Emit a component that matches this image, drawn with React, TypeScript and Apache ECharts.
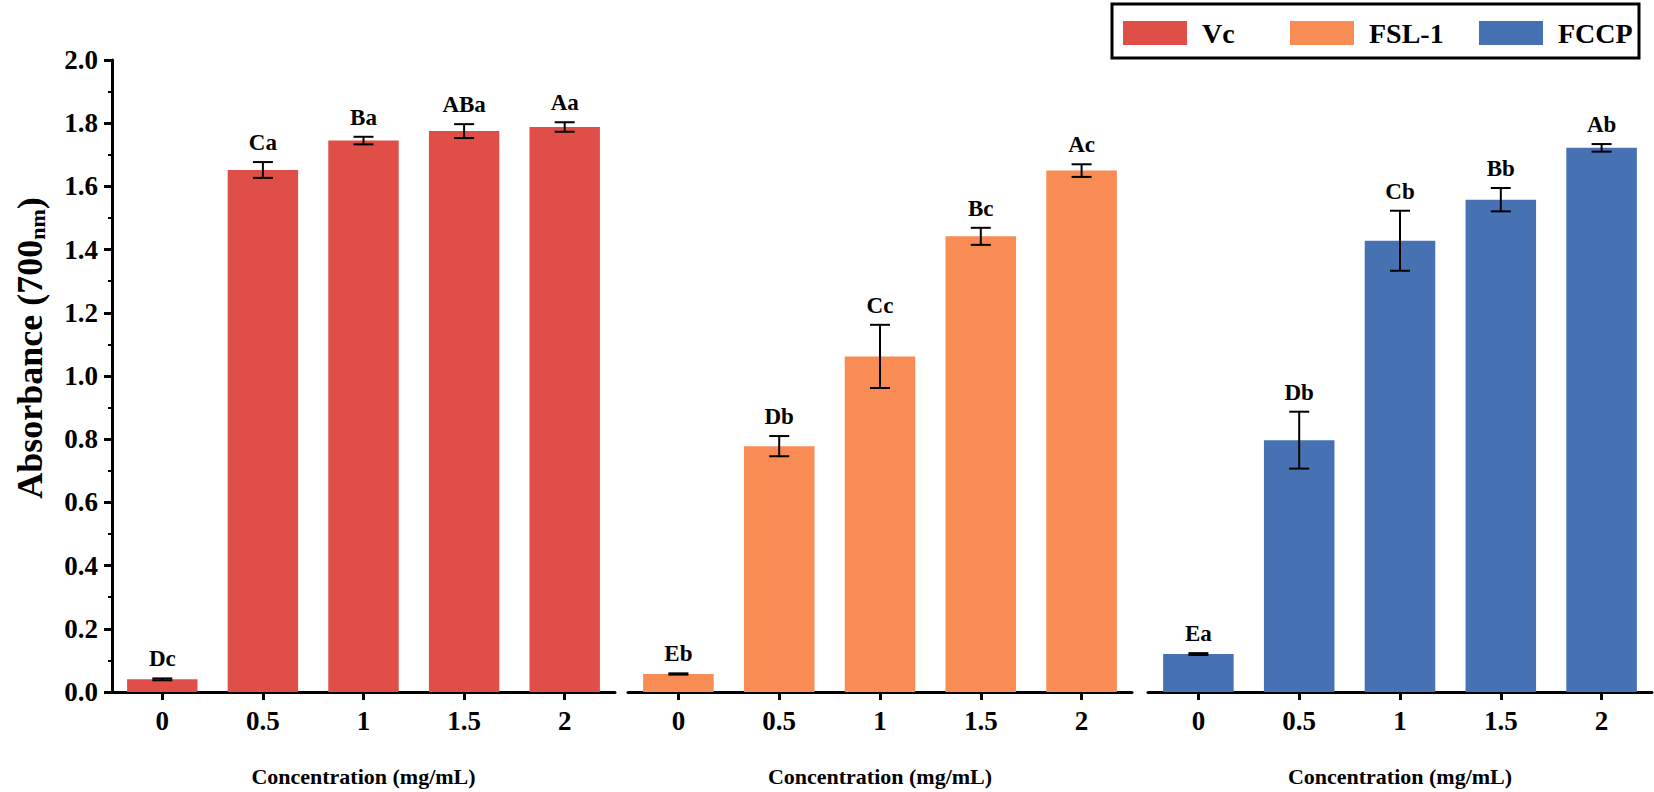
import React, { useEffect, useRef } from "react";
import * as echarts from "echarts";

const categories = ["0", "0.5", "1", "1.5", "2"];
const seriesNames = ["Vc", "FSL-1", "FCCP"];
const colors = ["#DF4F47", "#F98B55", "#4672B4"];

const vcMean = [0.04, 1.652, 1.745, 1.775, 1.788];
const vcErr = [0.003, 0.025, 0.012, 0.022, 0.015];
const vcLetters = ["Dc", "Ca", "Ba", "ABa", "Aa"];

const fslMean = [0.057, 0.778, 1.062, 1.442, 1.65];
const fslErr = [0.002, 0.032, 0.1, 0.027, 0.02];
const fslLetters = ["Eb", "Db", "Cc", "Bc", "Ac"];

const fccpMean = [0.12, 0.797, 1.428, 1.558, 1.722];
const fccpErr = [0.003, 0.09, 0.095, 0.037, 0.012];
const fccpLetters = ["Ea", "Db", "Cb", "Bb", "Ab"];

const yTicks = { min: 0, max: 2, interval: 0.2 };

const FONT = "Liberation Serif";

const means = [vcMean, fslMean, fccpMean];
const errs = [vcErr, fslErr, fccpErr];
const letters = [vcLetters, fslLetters, fccpLetters];

export default function App() {
  const ref = useRef<HTMLDivElement>(null);
  useEffect(() => {
    if (!ref.current) return;
    const chart = echarts.init(ref.current, null, { renderer: "svg" });
    const gridLefts = [112, 628, 1148];
    const gridWidths = [503, 504, 504];
    const grids = gridLefts.map((l, i) => ({ left: l, top: 60, width: gridWidths[i], height: 640 }));
    const xAxes = gridLefts.map((_, i) => ({
      type: "category",
      gridIndex: i,
      data: categories,
      boundaryGap: true,
      axisLine: { show: true, lineStyle: { color: "#000", width: 3 } },
      axisTick: { show: true, alignWithLabel: true, length: 8, lineStyle: { color: "#000", width: 3 } },
      axisLabel: { color: "#000", fontFamily: FONT, fontWeight: "bold", fontSize: 27, margin: 15 },
      name: "Concentration (mg/mL)",
      nameLocation: "middle",
      nameGap: 73,
      nameTextStyle: { color: "#000", fontFamily: FONT, fontWeight: "bold", fontSize: 22 },
    }));
    const yAxes = gridLefts.map((_, i) => ({
      type: "value",
      gridIndex: i,
      min: yTicks.min,
      max: yTicks.max,
      interval: yTicks.interval,
      show: i === 0,
      splitLine: { show: false },
      axisLine: { show: i === 0, lineStyle: { color: "#000", width: 3 } },
      axisTick: { show: i === 0, length: 8, lineStyle: { color: "#000", width: 3 } },
      minorTick: { show: i === 0, splitNumber: 2, length: 4, lineStyle: { color: "#000", width: 2 } },
      axisLabel: {
        show: i === 0,
        color: "#000",
        fontFamily: FONT,
        fontWeight: "bold",
        fontSize: 27,
        margin: 14,
        formatter: (v: number) => v.toFixed(1),
      },
    }));

    const series: any[] = [];
    for (let i = 0; i < 3; i++) {
      series.push({
        name: seriesNames[i],
        type: "bar",
        xAxisIndex: i,
        yAxisIndex: i,
        data: means[i],
        barWidth: "70%",
        itemStyle: { color: colors[i] },
      });
      const eb = means[i].map((m, k) => [k, m, errs[i][k]]);
      const lab = letters[i];
      series.push({
        type: "custom",
        xAxisIndex: i,
        yAxisIndex: i,
        data: eb,
        encode: { x: 0, y: 1 },
        z: 5,
        renderItem: (params: any, api: any) => {
          const x = api.value(0);
          const m = api.value(1);
          const s = api.value(2);
          const top = api.coord([x, m + s]);
          const bot = api.coord([x, m - s]);
          const cx = top[0];
          const w = 10;
          const ls = { stroke: "#000", lineWidth: 2 };
          return {
            type: "group",
            children: [
              { type: "line", shape: { x1: cx, y1: top[1], x2: cx, y2: bot[1] }, style: ls },
              { type: "line", shape: { x1: cx - w, y1: top[1], x2: cx + w, y2: top[1] }, style: ls },
              { type: "line", shape: { x1: cx - w, y1: bot[1], x2: cx + w, y2: bot[1] }, style: ls },
              {
                type: "text",
                x: cx,
                y: top[1] - 8,
                style: {
                  text: lab[params.dataIndex],
                  align: "center",
                  verticalAlign: "bottom",
                  fontFamily: FONT,
                  fontWeight: "bold",
                  fontSize: 23,
                  fill: "#000",
                },
              },
            ],
          };
        },
      });
    }

    const legendLefts = [1123, 1290, 1479];
    const legends = seriesNames.map((n, k) => ({
      data: [n],
      left: legendLefts[k],
      top: 19,
      padding: 0,
      icon: "rect",
      itemWidth: 64,
      itemHeight: 24,
      textStyle: {
        color: "#000",
        fontFamily: FONT,
        fontWeight: "bold",
        fontSize: 28,
        padding: [0, 0, 0, 10],
      },
    }));

    chart.setOption({
      animation: false,
      backgroundColor: "#fff",
      grid: grids,
      xAxis: xAxes,
      yAxis: yAxes,
      graphic: [
        {
          type: "rect",
          shape: { x: 1112, y: 4, width: 527, height: 54 },
          style: { fill: "none", stroke: "#000", lineWidth: 3 },
          z: 10,
        },
        {
          type: "text",
          x: 26,
          y: 348,
          rotation: Math.PI / 2,
          style: {
            text: "{m|Absorbance (700}{s|nm}{m|)}",
            align: "center",
            verticalAlign: "middle",
            rich: {
              m: { fontFamily: FONT, fontWeight: "bold", fontSize: 36, fill: "#000", lineHeight: 44, verticalAlign: "bottom" },
              s: { fontFamily: FONT, fontWeight: "bold", fontSize: 22, fill: "#000", lineHeight: 22, verticalAlign: "bottom" },
            },
          },
        },
      ],
      legend: legends,
      series,
    });
    return () => chart.dispose();
  }, []);
  return (
    <div
      ref={ref}
      style={{ position: "absolute", left: 0, top: 0, width: 1654, height: 792, background: "#fff" }}
    />
  );
}
